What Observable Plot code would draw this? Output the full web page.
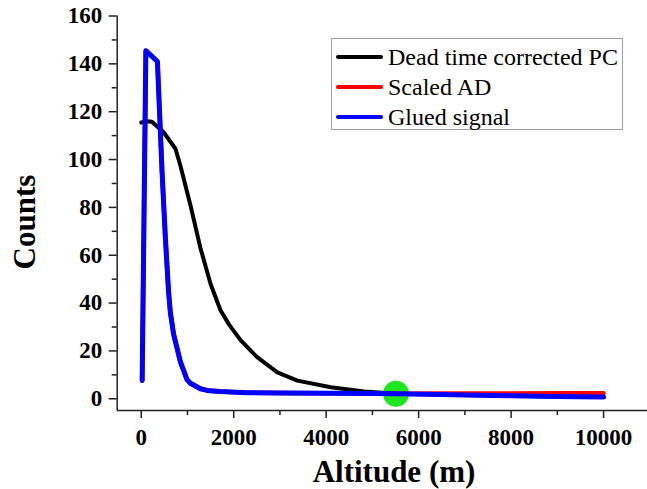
<!DOCTYPE html>
<html>
<head>
<meta charset="utf-8">
<script src="https://cdn.jsdelivr.net/npm/d3@7"></script>
<script src="https://cdn.jsdelivr.net/npm/@observablehq/plot@0.6"></script>
<style>
  html, body { margin: 0; padding: 0; background: #fff; }
  #wrap { position: relative; width: 647px; height: 489px; font-family: "Liberation Serif", "Times New Roman", serif; }
  #wrap svg { position: absolute; left: 0; top: 0; }
  .title { position: absolute; font-weight: bold; font-size: 31px; color: #000; white-space: nowrap; line-height: 1; }
  #legend { position: absolute; left: 331px; top: 38px; width: 290px; height: 90px; border: 1px solid #a0a0a0; background: #fff; }
  .item { position: absolute; left: 0; height: 30px; font-size: 24px; line-height: 30px; white-space: nowrap; }
  .sw { position: absolute; left: 4px; top: 13px; width: 47px; height: 4px; border-radius: 2px; }
  .lab { position: absolute; left: 56px; top: 0; }
</style>
</head>
<body>
<div id="wrap"></div>
<script>
// ---- data ----
const seriesNames = ["Dead time corrected PC", "Scaled AD", "Glued signal"];
const seriesColors = ["#000000", "#ff0000", "#0000ff"];

// Dead time corrected PC: altitude (m), counts
const pcAlt = [0, 120, 230, 480, 740, 846, 1063, 1280, 1500, 1714, 1900, 2148, 2500, 2944, 3377, 4100, 4822, 5510, 6500, 7000, 8000, 9000, 10000];
const pcVal = [115.5, 116, 115.8, 111.5, 104.5, 97.5, 81, 63, 48, 37, 31, 24.5, 17.5, 11, 7.6, 4.8, 3.0, 2.1, 1.75, 1.6, 1.3, 1.0, 0.7];

// Scaled AD
const adAlt = [20, 100, 350, 450, 520, 590, 630, 700, 846, 990, 1063, 1280, 1425, 1700, 2290, 3000, 4000, 5000, 5510, 6500, 7000, 8000, 9000, 10000];
const adVal = [7.6, 145.5, 141, 95, 68, 45, 36, 27, 15.5, 8, 6.5, 4.2, 3.5, 3.0, 2.5, 2.4, 2.3, 2.2, 2.1, 2.2, 2.2, 2.25, 2.3, 2.3];

// Glued signal
const gAlt = [20, 100, 350, 450, 520, 590, 630, 700, 846, 990, 1063, 1280, 1425, 1700, 2290, 3000, 4000, 5000, 5510, 6500, 7000, 8000, 9000, 10000];
const gVal = [7.6, 145.5, 141, 95, 68, 45, 36, 27, 15.5, 8, 6.5, 4.2, 3.5, 3.0, 2.5, 2.4, 2.3, 2.2, 2.1, 1.75, 1.6, 1.3, 1.0, 0.7];

// Gluing point
const glueAlt = [5510];
const glueVal = [2.1];

// Axis ticks
const xTicks = [0, 2000, 4000, 6000, 8000, 10000];
const xMinor = [1000, 3000, 5000, 7000, 9000];
const yTicks = [0, 20, 40, 60, 80, 100, 120, 140, 160];
const yMinor = [10, 30, 50, 70, 90, 110, 130, 150];
const xTitle = "Altitude (m)";
const yTitle = "Counts";

// ---- build ----
const toRows = (a, v) => a.map((d, i) => ({alt: d, v: v[i]}));
const pc = toRows(pcAlt, pcVal);
const ad = toRows(adAlt, adVal);
const glued = toRows(gAlt, gVal);
const glue = toRows(glueAlt, glueVal);

const xDom = [-520, 10950];
const yDom = [-4.9, 160];
const fmt = d3.format("d");

const chart = Plot.plot({
  width: 647,
  height: 489,
  marginLeft: 116.7,
  marginRight: 0,
  marginTop: 15.5,
  marginBottom: 79,
  x: {domain: xDom},
  y: {domain: yDom},
  style: {fontFamily: "'Liberation Serif', 'Times New Roman', serif", color: "#000", background: "transparent", overflow: "visible"},
  marks: [
    Plot.axisY({ticks: yTicks, tickSize: 8, tickPadding: 7, tickFormat: fmt, label: null, fontSize: 23, fontWeight: "bold", strokeWidth: 1.5, stroke: "#222"}),
    Plot.axisY({ticks: yMinor, tickSize: 5, text: null, label: null, strokeWidth: 1.5, stroke: "#222"}),
    Plot.axisX({ticks: xTicks, tickSize: 8, tickPadding: 10, tickFormat: fmt, label: null, fontSize: 23, fontWeight: "bold", strokeWidth: 1.5, stroke: "#222"}),
    Plot.axisX({ticks: xMinor, tickSize: 5, text: null, label: null, strokeWidth: 1.5, stroke: "#222"}),
    Plot.ruleX([xDom[0]], {stroke: "#222", strokeWidth: 1.5}),
    Plot.ruleY([yDom[0]], {stroke: "#222", strokeWidth: 1.5}),
    Plot.dot(glue, {x: "alt", y: "v", r: 13, fill: "#1de81d", stroke: "none"}),
    Plot.line(pc, {x: "alt", y: "v", stroke: seriesColors[0], strokeWidth: 4, strokeLinejoin: "round", strokeLinecap: "round"}),
    Plot.line(ad, {x: "alt", y: "v", stroke: seriesColors[1], strokeWidth: 4.5, strokeLinejoin: "round", strokeLinecap: "round"}),
    Plot.line(glued, {x: "alt", y: "v", stroke: seriesColors[2], strokeWidth: 5, strokeLinejoin: "round", strokeLinecap: "round"})
  ]
});

const wrap = document.getElementById("wrap");
wrap.appendChild(chart);

// Axis titles
const xt = document.createElement("div");
xt.className = "title";
xt.textContent = xTitle;
xt.style.left = "394px";
xt.style.top = "456px";
xt.style.transform = "translateX(-50%)";
wrap.appendChild(xt);

const yt = document.createElement("div");
yt.className = "title";
yt.textContent = yTitle;
yt.style.left = "24px";
yt.style.top = "222px";
yt.style.transform = "translate(-50%, -50%) rotate(-90deg)";
wrap.appendChild(yt);

// Legend
const leg = document.createElement("div");
leg.id = "legend";
seriesNames.forEach((name, i) => {
  const it = document.createElement("div");
  it.className = "item";
  it.style.top = (3 + i * 30) + "px";
  const sw = document.createElement("div");
  sw.className = "sw";
  sw.style.background = seriesColors[i];
  const lb = document.createElement("span");
  lb.className = "lab";
  lb.textContent = name;
  it.appendChild(sw);
  it.appendChild(lb);
  leg.appendChild(it);
});
wrap.appendChild(leg);
</script>
</body>
</html>
